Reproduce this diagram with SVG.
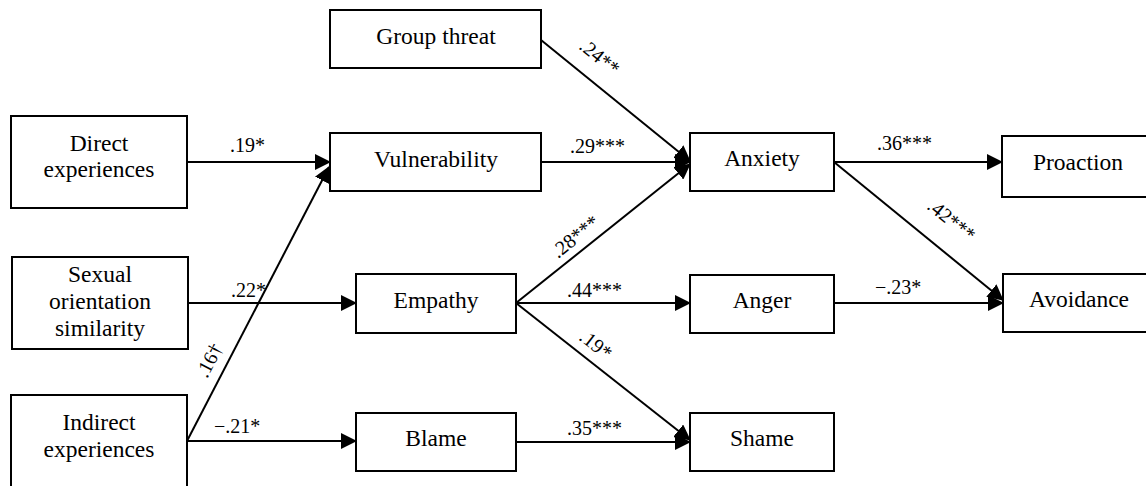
<svg xmlns="http://www.w3.org/2000/svg" width="1146" height="486" viewBox="0 0 1146 486" font-family="Liberation Serif, serif">
<style>
.box{fill:#fff;stroke:#000;stroke-width:2}
.nt{font-size:23.5px;fill:#000;text-anchor:middle}
.lb{font-size:20px;fill:#000}
.ln{stroke:#000;stroke-width:2;fill:none;marker-end:url(#ah)}
</style>
<defs>
<marker id="ah" viewBox="0 0 16 16" refX="15" refY="8" markerWidth="16" markerHeight="16" markerUnits="userSpaceOnUse" orient="auto">
<path d="M0,0 L16,8 L0,16 z" fill="#000"/>
</marker>
</defs>
<rect width="1146" height="486" fill="#fff"/>
<g id="connectors">
<line class="ln" x1="187" y1="162" x2="330" y2="162"/>
<line class="ln" x1="187" y1="441" x2="329" y2="167"/>
<line class="ln" x1="541" y1="40" x2="690" y2="161"/>
<line class="ln" x1="541" y1="162" x2="690" y2="162"/>
<line class="ln" x1="516" y1="303" x2="690" y2="164"/>
<line class="ln" x1="188" y1="303" x2="356" y2="303"/>
<line class="ln" x1="187" y1="441" x2="356" y2="441"/>
<line class="ln" x1="516" y1="303" x2="690" y2="303"/>
<line class="ln" x1="516" y1="303" x2="690" y2="440"/>
<line class="ln" x1="516" y1="442" x2="690" y2="442"/>
<line class="ln" x1="834" y1="162" x2="1002" y2="162"/>
<line class="ln" x1="834" y1="162" x2="1003" y2="300"/>
<line class="ln" x1="834" y1="303" x2="1003" y2="303"/>
<text class="lb" x="230" y="152">.19*</text>
<text class="lb" x="570" y="153">.29***</text>
<text class="lb" x="877" y="150">.36***</text>
<text class="lb" x="231" y="297">.22*</text>
<text class="lb" x="567" y="297">.44***</text>
<text class="lb" x="214" y="433">−.21*</text>
<text class="lb" x="567" y="435">.35***</text>
<text class="lb" x="875" y="294">−.23*</text>
<text class="lb" transform="translate(578,48) rotate(39)">.24**</text>
<text class="lb" transform="translate(926,208) rotate(39)">.42***</text>
<text class="lb" transform="translate(558,259) rotate(-39)">.28***</text>
<text class="lb" transform="translate(578,339) rotate(38)">.19*</text>
<text class="lb" transform="translate(207,379) rotate(-62.6)">.16†</text>
</g>
<g id="direct"><rect class="box" x="11" y="116" width="176" height="92"/><text class="nt" x="99" y="151">Direct</text><text class="nt" x="99" y="177">experiences</text></g>
<g id="sexual"><rect class="box" x="12" y="257" width="176" height="92"/><text class="nt" x="100" y="282">Sexual</text><text class="nt" x="100" y="309">orientation</text><text class="nt" x="100" y="336">similarity</text></g>
<g id="indirect"><rect class="box" x="11" y="395" width="176" height="92"/><text class="nt" x="99" y="430">Indirect</text><text class="nt" x="99" y="457">experiences</text></g>
<g id="group-threat"><rect class="box" x="330" y="10" width="211" height="58"/><text class="nt" x="436" y="44">Group threat</text></g>
<g id="vulnerability"><rect class="box" x="330" y="133" width="211" height="58"/><text class="nt" x="436" y="167">Vulnerability</text></g>
<g id="empathy"><rect class="box" x="356" y="274" width="160" height="59"/><text class="nt" x="436" y="308">Empathy</text></g>
<g id="blame"><rect class="box" x="356" y="413" width="160" height="58"/><text class="nt" x="436" y="446">Blame</text></g>
<g id="anxiety"><rect class="box" x="690" y="133" width="144" height="58"/><text class="nt" x="762" y="166">Anxiety</text></g>
<g id="anger"><rect class="box" x="690" y="275" width="144" height="58"/><text class="nt" x="762" y="308">Anger</text></g>
<g id="shame"><rect class="box" x="690" y="413" width="144" height="58"/><text class="nt" x="762" y="446">Shame</text></g>
<g id="proaction"><rect class="box" x="1002" y="136" width="152" height="61"/><text class="nt" x="1078" y="170">Proaction</text></g>
<g id="avoidance"><rect class="box" x="1003" y="274" width="152" height="58"/><text class="nt" x="1079" y="307">Avoidance</text></g>
</svg>
